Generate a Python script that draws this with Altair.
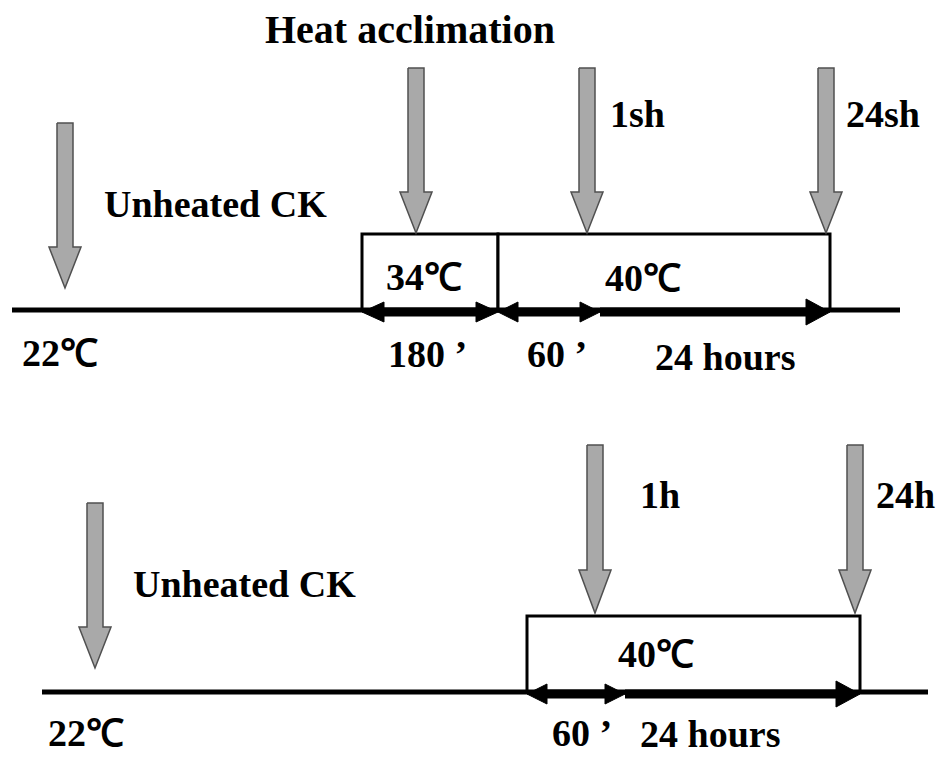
import altair as alt
import pandas as pd

# ---------------- diagram content (pixel-like units of the figure) ----------------
W, H = 931, 747

# gray sampling arrows
arrow_cx   = [65, 416, 587, 826, 95, 595, 855]
arrow_top  = [123, 68, 68, 68, 503, 445, 445]
arrow_neck = [247, 192, 192, 192, 627, 570, 570]
arrow_tip  = [288, 233, 233, 233, 668, 613, 613]
arrow_shaft_hw = 8
arrow_head_hw = 16

# time-lines
timeline_y  = [310, 692]
timeline_x1 = [12, 42]
timeline_x2 = [900, 928]

# temperature boxes
box_x1     = [362, 498, 527]
box_x2     = [498, 830, 860]
box_top    = [234, 234, 616]
box_bottom = [310, 310, 692]

# duration arrows on the time-lines
dur_x1   = [362, 498, 600, 527, 625]
dur_x2   = [498, 600, 830, 625, 860]
dur_y    = [312, 312, 312, 694, 694]
dur_both = [True, True, False, True, False]
dur_hh   = [10, 10, 13, 10, 13]     # half height of heads
dur_hl   = [22, 20, 24, 20, 24]     # head length

# labels
labels  = ["Heat acclimation", "Unheated CK", "1sh", "24sh", "34℃", "40℃",
           "22℃", "180 ’", "60 ’", "24 hours",
           "Unheated CK", "1h", "24h", "40℃", "22℃", "60 ’", "24 hours"]
label_x = [265, 104, 610, 846, 386, 605, 22, 388, 527, 655,
           133, 640, 876, 618, 48, 552, 640]
label_y = [43, 217, 127, 127, 290, 291, 366, 367, 367, 370,
           597, 508, 508, 667, 746, 746, 747]
label_size = [40, 38, 38, 38, 38, 38, 38, 38, 38, 38,
              38, 38, 38, 38, 38, 38, 38]

# ---------------- build tables ----------------
xs = alt.Scale(domain=[8, 8 + W], nice=False, zero=False)
ys = alt.Scale(domain=[8, 8 + H], nice=False, zero=False, reverse=True)

def X(f):
    return alt.X(f, type="quantitative", scale=xs, axis=None)

def Y(f):
    return alt.Y(f, type="quantitative", scale=ys, axis=None)

gray_rows = []
for k, (cx, t, n, tp) in enumerate(zip(arrow_cx, arrow_top, arrow_neck, arrow_tip)):
    s, h = arrow_shaft_hw, arrow_head_hw
    pts = [(cx - s, t), (cx + s, t), (cx + s, n), (cx + h, n), (cx, tp),
           (cx - h, n), (cx - s, n), (cx - s, t)]
    for i, (x, y) in enumerate(pts):
        gray_rows.append({"pid": k, "i": i, "x": x, "y": y})
gray_df = pd.DataFrame(gray_rows)

head_rows = []
shaft_rows = []
pid = 0
for x1, x2, y, both, hh, hl in zip(dur_x1, dur_x2, dur_y, dur_both, dur_hh, dur_hl):
    tris = [[(x2, y), (x2 - hl, y - hh), (x2 - hl, y + hh), (x2, y)]]
    if both:
        tris.append([(x1, y), (x1 + hl, y - hh), (x1 + hl, y + hh), (x1, y)])
    for tri in tris:
        for i, (px, py) in enumerate(tri):
            head_rows.append({"pid": pid, "i": i, "x": px, "y": py})
        pid += 1
    shaft_rows.append({"x": x1 + (hl / 2 if both else 0), "x2": x2 - hl / 2, "y": y})
head_df = pd.DataFrame(head_rows)
shaft_df = pd.DataFrame(shaft_rows)

line_df = pd.DataFrame({"x": timeline_x1, "x2": timeline_x2, "y": timeline_y})
box_df = pd.DataFrame({"x": box_x1, "x2": box_x2, "y": box_top, "y2": box_bottom})
text_df = pd.DataFrame({"t": labels, "x": label_x, "y": label_y, "s": label_size})

# ---------------- layers ----------------
boxes = alt.Chart(box_df).mark_rect(fill="white", stroke="black", strokeWidth=3).encode(
    x=X("x"), x2="x2", y=Y("y"), y2="y2")

timelines = alt.Chart(line_df).mark_rule(color="black", strokeWidth=5).encode(
    x=X("x"), x2="x2", y=Y("y"))

shafts = alt.Chart(shaft_df).mark_rule(color="black", strokeWidth=9).encode(
    x=X("x"), x2="x2", y=Y("y"))

heads = alt.Chart(head_df).mark_line(fill="black", stroke="black", strokeWidth=1).encode(
    x=X("x"), y=Y("y"), detail="pid:N", order="i:Q")

gray = alt.Chart(gray_df).mark_line(fill="#a9a9a9", stroke="#505050", strokeWidth=1.5).encode(
    x=X("x"), y=Y("y"), detail="pid:N", order="i:Q")

texts = alt.Chart(text_df).mark_text(
    align="left", baseline="alphabetic", font="Liberation Serif",
    fontWeight="bold", color="black").encode(
    x=X("x"), y=Y("y"), text="t:N", size=alt.Size("s:Q", scale=None, legend=None))

chart = alt.layer(boxes, timelines, shafts, heads, gray, texts).properties(
    width=W, height=H,
    autosize=alt.AutoSizeParams(type="none"),
    padding={"left": 0, "top": 0, "right": 0, "bottom": 0},
    background="white",
).configure_view(strokeWidth=0)

chart.save("out.html", embed_options={"renderer": "svg", "actions": False})
